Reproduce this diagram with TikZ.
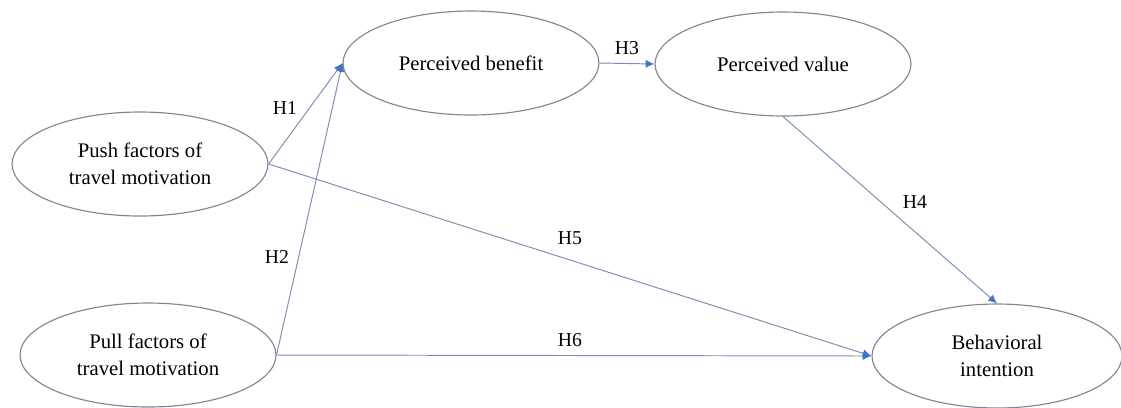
\documentclass[tikz,border=0pt]{standalone}
\usepackage{fontspec}
\setmainfont{Liberation Serif}
\usetikzlibrary{shapes.geometric,arrows.meta}
\definecolor{rim}{RGB}{128,134,146}
\definecolor{link}{RGB}{122,142,178}
\definecolor{tip}{RGB}{68,114,196}

\begin{document}
\begin{tikzpicture}[x=0.02cm,y=-0.02cm,
  var/.style={ellipse,draw=rim,line width=0.65pt,minimum width=5.12cm,minimum height=2.08cm,
    inner sep=0pt,align=center,font=\fontsize{11.8}{15.3}\selectfont},
  hyp/.style={draw=link,line width=0.55pt,-{Latex[length=5pt,width=4.5pt,color=tip]}},
  lab/.style={inner sep=0pt,font=\fontsize{11.2}{13}\selectfont}]
\useasboundingbox (0,0) rectangle (1121,407);
\node[var] (push) at (140,164) {Push factors of\\travel motivation};
\node[var] (pull) at (148,355) {Pull factors of\\travel motivation};
\node[var] (ben) at (471,63) {Perceived benefit};
\node[var] (val) at (783,64) {Perceived value};
\node[var,minimum width=5cm] (bi) at (997,356) {Behavioral\\intention};
\node[lab] (h1) at (285,108) {H1};
\node[lab] (h2) at (277,257) {H2};
\node[lab] (h3) at (627,48) {H3};
\node[lab] (h4) at (915,202) {H4};
\node[lab] (h5) at (570,238) {H5};
\node[lab] (h6) at (570,340) {H6};
\draw[hyp] (push.east) -- (ben.west);
\draw[hyp] (pull.east) -- (ben.west);
\draw[hyp] (ben.east) -- (val.west);
\draw[hyp] (val.south) -- (bi.north);
\draw[hyp] (push.east) -- (bi.west);
\draw[hyp] (pull.east) -- (bi.west);
\end{tikzpicture}
\end{document}
